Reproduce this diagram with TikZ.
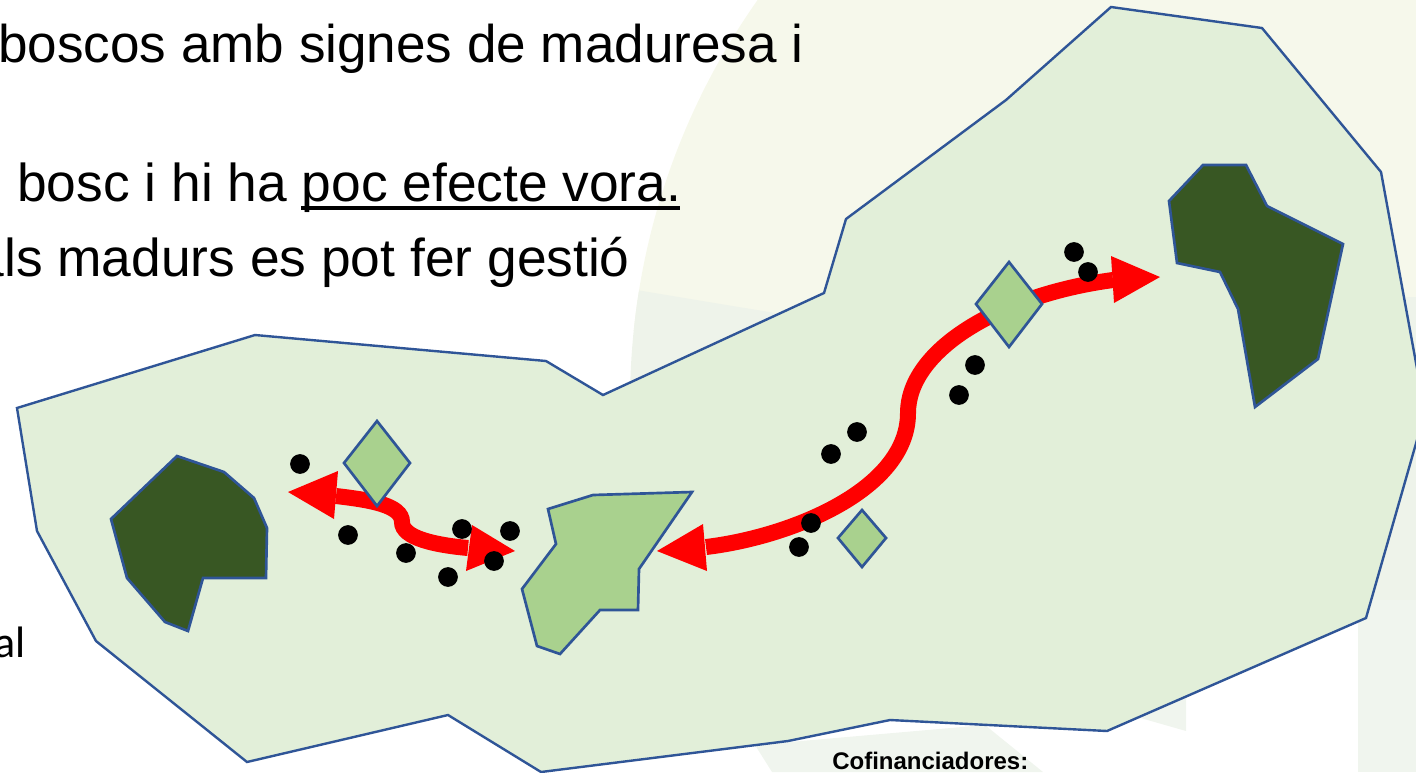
\documentclass[tikz,border=0pt]{standalone}
\usepackage{fontspec}
\setmainfont{Liberation Sans}
\newfontfamily\calfont{Carlito}
\definecolor{paleyel}{HTML}{F6F8EB}
\definecolor{palegry}{HTML}{EEF3EA}
\definecolor{paleside}{HTML}{F0F5EE}
\definecolor{landgrn}{HTML}{E2EFD9}
\definecolor{midgrn}{HTML}{A9D18E}
\definecolor{darkgrn}{HTML}{385723}
\definecolor{edgeblue}{HTML}{2F5597}
\tikzset{
  land/.style={fill=landgrn,draw=edgeblue,line width=1.8pt,line join=miter},
  midpatch/.style={fill=midgrn,draw=edgeblue,line width=2pt,line join=miter},
  darkpatch/.style={fill=darkgrn,draw=edgeblue,line width=2pt,line join=miter},
  shaft/.style={draw=red,line width=12pt},
  head/.style={fill=red,draw=none},
  seed/.style={circle,fill=black,inner sep=0pt,minimum size=14.8pt},
  bigtext/.style={anchor=base west,inner sep=0pt,font=\fontsize{40}{40}\selectfont},
}
\begin{document}
\begin{tikzpicture}[x=0.75pt,y=-0.75pt]
\useasboundingbox (0,0) rectangle (1416,772);
\clip (0,0) rectangle (1416,772);
% background
\begin{scope}
  \clip (600,0) rectangle (1416,330);
  \fill[paleyel] (1330,403) circle (525pt);
\end{scope}
\begin{scope}
  \clip (1330,403) circle (525pt);
  \fill[palegry] (630,289) -- (775,313) -- (775,420) -- (620,420) -- cycle;
\end{scope}
\fill[palegry] (1358,297) rectangle (1416,600);
\fill[paleside] (1358,600) rectangle (1416,772);
\fill[paleside] (755,745) -- (772,772) -- (1043,772) -- (985,725) -- cycle;
\fill[paleside] (1130,715) -- (1186,731) -- (1186,690) -- cycle;
% text
\node[bigtext,font=\fontsize{39.8}{39.8}\selectfont] (t1) at (-2,62) {boscos amb signes de maduresa i};
\node[bigtext] (t2) at (17,201) {bosc i hi ha poc efecte vora.};
\node[bigtext,anchor=base east] (t3) at (630,276) {als madurs es pot fer gestió};
\node[anchor=base west,inner sep=0pt,font=\calfont\fontsize{33}{33}\selectfont] (t4) at (-6,657) {al};
\node[anchor=base west,inner sep=0pt,font=\bfseries\fontsize{18}{18}\selectfont] (t5) at (832,769) {Cofinanciadores:};
\fill[black] (301,206) rectangle (680,209.5);
% land
\draw[land] (17,408) -- (255,335) -- (546,361) -- (603,395) -- (824,293) -- (846,219) -- (1006,100) -- (1111,7) -- (1262,28) -- (1381,172) -- (1425,412) -- (1366,618) -- (1107,731) -- (890,720) -- (788,741) -- (541,772) -- (448,715) -- (247,762) -- (96,641) -- (37,531) -- cycle;
% dark patches
\draw[darkpatch] (177,456) -- (224,472) -- (254,498) -- (267,528) -- (266,578) -- (203,578) -- (188,631) -- (165,622) -- (127,578) -- (111,519) -- cycle;
\draw[darkpatch] (1203,165) -- (1246,165) -- (1267,206) -- (1343,244) -- (1318,359) -- (1255,407) -- (1238,309) -- (1220,272) -- (1177,263) -- (1169,201) -- cycle;
% middle patch
\draw[midpatch] (548,509) -- (593,495) -- (692,492) -- (639,569) -- (638,610) -- (600,610) -- (560,654) -- (537,646) -- (522,589) -- (556,544) -- cycle;
% red arrows
\draw[shaft] (706,547) .. controls (790,537) and (908,490) .. (908,413) .. controls (908,350) and (1000,295) .. (1113,280);
\fill[head] (657,551) -- (703,524) -- (707,571) -- cycle;
\fill[head] (1160,277) -- (1111,256) -- (1114,303) -- cycle;
\draw[shaft] (336,496) .. controls (370,500) and (402,505) .. (402,522) .. controls (402,538) and (435,545) .. (468,548);
\fill[head] (288,492) -- (338,471) -- (334,519) -- cycle;
\fill[head] (515,551) -- (472,525) -- (466,571) -- cycle;
% diamonds
\draw[midpatch] (377,421) -- (410,463) -- (377,506) -- (344,463) -- cycle;
\draw[midpatch] (1009,262) -- (1042,304) -- (1009,347) -- (976,304) -- cycle;
\draw[midpatch] (862,510) -- (886,538) -- (862,567) -- (838,538) -- cycle;
% dots
\node[seed] (d1) at (300,464) {};
\node[seed] (d2) at (348,535) {};
\node[seed] (d3) at (406,553) {};
\node[seed] (d4) at (448,577) {};
\node[seed] (d5) at (462,529) {};
\node[seed] (d6) at (494,561) {};
\node[seed] (d7) at (510,531) {};
\node[seed] (d8) at (1074,252) {};
\node[seed] (d9) at (1088,272) {};
\node[seed] (d10) at (975,365) {};
\node[seed] (d11) at (959,395) {};
\node[seed] (d12) at (857,432) {};
\node[seed] (d13) at (831,454) {};
\node[seed] (d14) at (811,523) {};
\node[seed] (d15) at (799,547) {};
\end{tikzpicture}
\end{document}
